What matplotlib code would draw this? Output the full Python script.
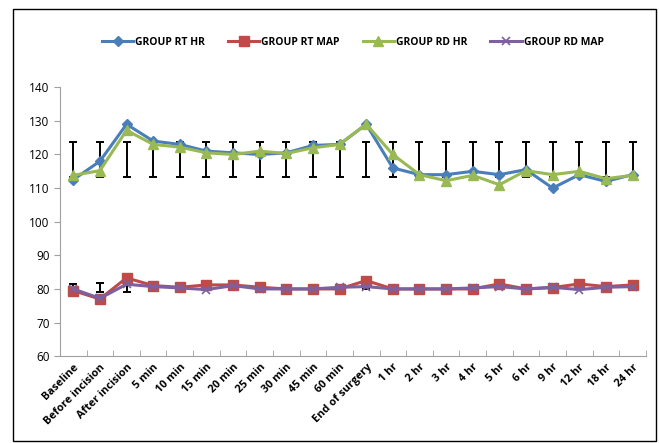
import matplotlib.pyplot as plt
from matplotlib.patches import Rectangle

# Time points
labels = ['Baseline', 'Before incision', 'After incision', '5 min', '10 min', '15 min',
          '20 min', '25 min', '30 min', '45 min', '60 min', 'End of surgery',
          '1 hr', '2 hr', '3 hr', '4 hr', '5 hr', '6 hr', '9 hr', '12 hr', '18 hr', '24 hr']

# Series values
rt_hr = [112.5, 118, 129, 124, 123, 121, 120.5, 120, 120.5, 122.7, 123, 129,
         116, 114, 114, 115, 114, 115.5, 110, 114, 112, 114]
rt_map = [79.5, 77, 83.3, 81, 80.5, 81.2, 81.2, 80.5, 80, 80, 80, 82.5,
          80, 80, 80, 80, 81.5, 80, 80.4, 81.5, 80.7, 81.2]
rd_hr = [113.8, 115.2, 127.2, 123, 122.2, 120.5, 120, 121, 120.3, 122, 123, 129,
         120, 114, 112.2, 113.8, 111, 115.2, 114, 115, 112.8, 113.8]
rd_map = [80, 77.2, 81.4, 80.7, 80.3, 79.8, 81, 80, 80, 80, 80.5, 80.7,
          80, 80, 80, 80.3, 80.7, 80, 80.5, 79.8, 80.5, 80.7]

# Error bar ranges (low, high)
hr_low = [113.2] * 22
hr_high = [123.6] * 22
map_low = [78.5, 79.2, 79.2, 80, 80, 80, 80, 80, 80, 80, 80, 80,
           80, 80, 80, 80, 80, 80, 80, 80, 80, 80]
map_high = [81.6, 81.8, 81.2, 80.8, 80.8, 80.8, 80.8, 80.8, 80.8, 80.8, 80.8, 80.8,
            80.8, 80.8, 80.8, 80.8, 80.8, 80.8, 80.8, 80.8, 80.8, 80.8]

plt.rcParams['font.family'] = ['Open Sans', 'DejaVu Sans']

fig = plt.figure(figsize=(6.59, 4.43), dpi=100)
ax = fig.add_axes([0.091, 0.196, 0.889, 0.607])

x = list(range(len(labels)))

# error bars
for lo, hi in [(hr_low, hr_high), (map_low, map_high)]:
    mid = [(a + b) / 2 for a, b in zip(lo, hi)]
    err = [(b - a) / 2 for a, b in zip(lo, hi)]
    ax.errorbar(x, mid, yerr=err, fmt='none', ecolor='black', elinewidth=1.4,
                capsize=3, capthick=1.4, zorder=1)

ax.plot(x, rt_hr, color='#4a7ebb', marker='D', markersize=5, linewidth=2.2,
        label='GROUP RT HR', zorder=3)
ax.plot(x, rt_map, color='#be4b48', marker='s', markersize=6.5, linewidth=2.2,
        label='GROUP RT MAP', zorder=3)
ax.plot(x, rd_hr, color='#98b954', marker='^', markersize=7.5, linewidth=2.2,
        label='GROUP RD HR', zorder=3)
ax.plot(x, rd_map, color='#7d60a0', marker='x', markersize=6, markeredgewidth=1.2,
        linewidth=2.2, label='GROUP RD MAP', zorder=4)

ax.set_xlim(-0.5, len(labels) - 0.5)
ax.set_ylim(60, 140)
ax.set_yticks(range(60, 141, 10))
ax.set_xticks(x)
ax.set_xticklabels(labels, rotation=45, ha='right', rotation_mode='anchor',
                   fontsize=7.8, fontweight='bold')
ax.set_xticks([i - 0.5 for i in range(len(labels) + 1)], minor=True)
ax.tick_params(axis='x', which='major', length=0, pad=4)
ax.tick_params(axis='x', which='minor', length=4, color='#a0a0a0', direction='in')
ax.tick_params(axis='y', labelsize=8.5, color='#a0a0a0', length=4)

for s in ['top', 'right']:
    ax.spines[s].set_visible(False)
for s in ['left', 'bottom']:
    ax.spines[s].set_color('#a0a0a0')

ax.legend(loc='center', bbox_to_anchor=(0.5, 1.167), ncol=4, frameon=False,
          prop={'size': 7.5, 'weight': 'bold'}, handlelength=3, columnspacing=2.2,
          handletextpad=0.2)

# outer frame
fig.patches.append(Rectangle((13 / 659, 2 / 443), 643 / 659, 432 / 443,
                             transform=fig.transFigure, fill=False,
                             edgecolor='black', linewidth=1))

fig.savefig('out.png', dpi=100)
